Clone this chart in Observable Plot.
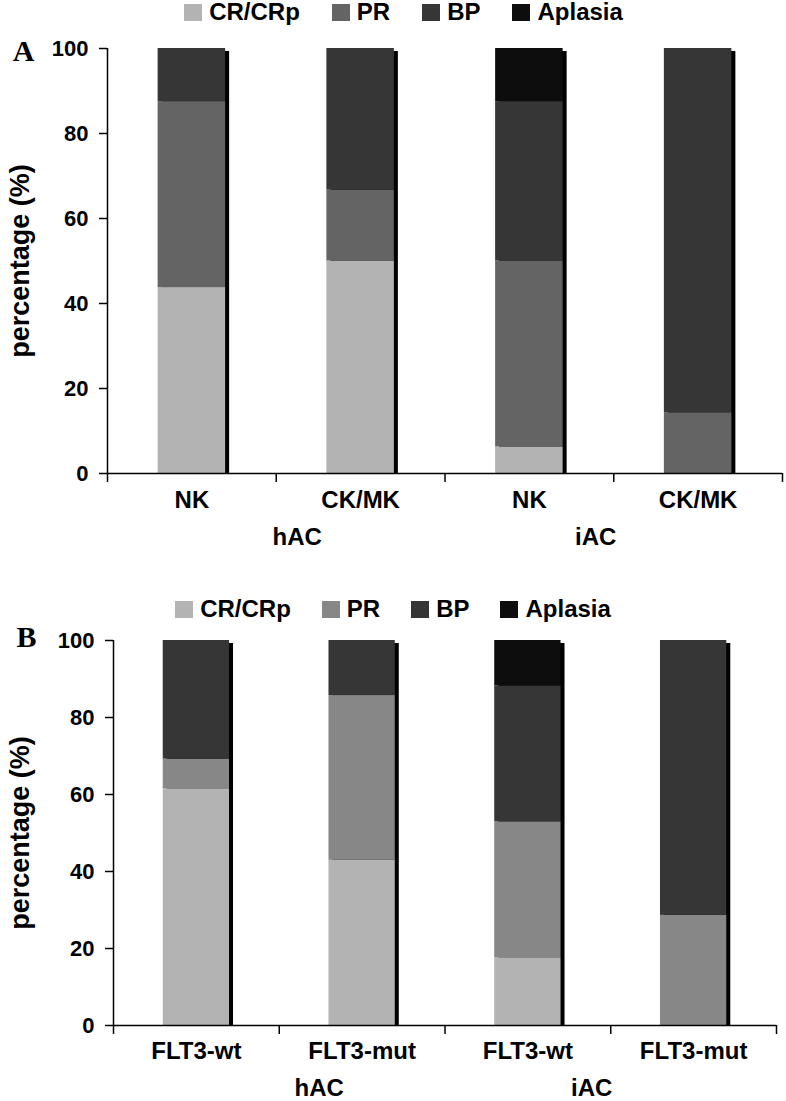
<!DOCTYPE html>
<html><head><meta charset="utf-8">
<script src="https://cdn.jsdelivr.net/npm/d3@7"></script>
<script src="https://cdn.jsdelivr.net/npm/@observablehq/plot@0.6"></script>
<style>
body{margin:0;background:#fff;font-family:"Liberation Sans",Arial,sans-serif;}
#wrap{width:786px;}
.legend{width:786px;display:flex;justify-content:center;align-items:flex-start;font-weight:bold;font-size:24px;line-height:24px;box-sizing:border-box;}
.item{display:flex;align-items:center;height:24px;}
.sw{display:inline-block;width:18px;height:17px;margin-right:7px;}
svg{display:block;}
</style></head><body><div id="wrap"></div>
<script>
const statuses = ["CR/CRp", "PR", "BP", "Aplasia"];

// Panel A
const categoriesA = ["NK", "CK/MK", "NK", "CK/MK"];
const groupsA = ["hAC", "iAC"];
const crA = [43.75, 50, 6.25, 0];
const prA = [43.75, 16.67, 43.75, 14.29];
const bpA = [12.5, 33.33, 37.5, 85.71];
const aplasiaA = [0, 0, 12.5, 0];

// Panel B
const categoriesB = ["FLT3-wt", "FLT3-mut", "FLT3-wt", "FLT3-mut"];
const groupsB = ["hAC", "iAC"];
const crB = [61.5, 42.9, 17.6, 0];
const prB = [7.7, 42.8, 35.3, 28.6];
const bpB = [30.8, 14.3, 35.3, 71.4];
const aplasiaB = [0, 0, 11.8, 0];

const yTicks = [0, 20, 40, 60, 80, 100];
const yLabel = "percentage (%)";

const colorsA = ["#b3b3b3", "#646464", "#363636", "#0d0d0d"];
const colorsB = ["#b3b3b3", "#878787", "#363636", "#0d0d0d"];

const wrap = document.getElementById("wrap");

function legend(colors, style, gap) {
  const div = document.createElement("div");
  div.className = "legend";
  Object.assign(div.style, style);
  div.style.gap = gap + "px";
  statuses.forEach((s, k) => {
    const it = document.createElement("span");
    it.className = "item";
    const sw = document.createElement("span");
    sw.className = "sw";
    sw.style.background = colors[k];
    const tx = document.createElement("span");
    tx.textContent = s;
    it.appendChild(sw); it.appendChild(tx);
    div.appendChild(it);
  });
  return div;
}

function panel(o) {
  const n = o.cats.length;
  const innerW = 786 - o.marginLeft - o.marginRight;
  const inset = 0.3 * innerW / n;
  const rows = [];
  statuses.forEach((s, k) => o.series[k].forEach((v, i) => { if (v > 0) rows.push({i, status: s, value: v}); }));
  const totals = o.cats.map((c, i) => d3.sum(o.series, arr => arr[i]));
  const svg = Plot.plot({
    width: 786, height: o.height,
    marginTop: o.marginTop, marginBottom: o.marginBottom,
    marginLeft: o.marginLeft, marginRight: o.marginRight,
    style: {fontFamily: "Liberation Sans, Arial, sans-serif", fontWeight: "bold", fontSize: "22px", color: "black", background: "white", overflow: "visible"},
    x: {domain: [0, n], axis: null},
    y: {domain: [0, 100], axis: null},
    color: {domain: statuses, range: o.colors},
    marks: [
      Plot.rectY(totals, {x1: (d, i) => i, x2: (d, i) => i + 1, y1: 0, y2: d => d, fill: "black", insetLeft: inset, insetRight: inset, insetTop: 3, dx: 4}),
      Plot.rectY(rows, {x1: d => d.i, x2: d => d.i + 1, y: "value", fill: "status", order: statuses, insetLeft: inset, insetRight: inset}),
      Plot.ruleX([0], {strokeWidth: 1.5}),
      Plot.ruleY([0], {strokeWidth: 1.5}),
      Plot.axisY({ticks: yTicks, tickSize: 8, tickPadding: 11, tickFormat: d => d, label: null, strokeWidth: 1.5, fontSize: 22}),
      Plot.axisX({ticks: d3.range(n + 1), tickSize: 9, tickFormat: () => "", label: null, strokeWidth: 1.5}),
      Plot.text(o.cats, {x: (d, i) => i + 0.5, frameAnchor: "bottom", lineAnchor: "middle", dy: o.catDy, fontSize: 24, text: d => d}),
      ...o.groups.map((g, j) => Plot.text([g], {x: 2 * j + 1, frameAnchor: "bottom", lineAnchor: "middle", textAnchor: "middle", dy: o.groupDy, dx: o.groupDx[j], fontSize: 24, text: d => d})),
      Plot.text([o.letter], {frameAnchor: "top-left", textAnchor: "middle", lineAnchor: "middle", dx: o.letterDx, dy: o.letterDy, fontSize: 30, fontFamily: "Liberation Serif, Times New Roman, serif", text: d => d}),
      Plot.text([yLabel], {frameAnchor: "left", textAnchor: "middle", lineAnchor: "middle", dx: o.yLabelDx, rotate: -90, fontSize: 27, text: d => d, ariaLabel: "ylabel"})
    ]
  });
  const yl = svg.querySelector('g[aria-label="ylabel"] text');
  if (yl) { yl.setAttribute("textLength", 205); yl.setAttribute("lengthAdjust", "spacingAndGlyphs"); }
  return svg;
}

wrap.appendChild(legend(colorsA, {height: "30px", paddingLeft: "21px"}, 32));
wrap.appendChild(panel({
  cats: categoriesA, groups: groupsA, series: [crA, prA, bpA, aplasiaA], colors: colorsA, letter: "A",
  height: 530, marginTop: 18, marginBottom: 87, marginLeft: 107, marginRight: 4,
  catDy: 27, groupDy: 64, groupDx: [21, -18], letterDx: -84, letterDy: 3, yLabelDx: -87
}));
wrap.appendChild(legend(colorsB, {height: "65px", paddingTop: "37px"}, 31));
wrap.appendChild(panel({
  cats: categoriesB, groups: groupsB, series: [crB, prB, bpB, aplasiaB], colors: colorsB, letter: "B",
  height: 476, marginTop: 15, marginBottom: 76, marginLeft: 113, marginRight: 10,
  catDy: 26, groupDy: 63, groupDx: [40, -19], letterDx: -87, letterDy: -3, yLabelDx: -93
}));
</script>
</body></html>
